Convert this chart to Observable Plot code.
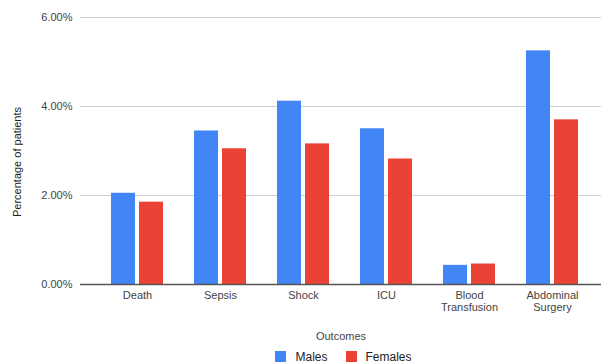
<!DOCTYPE html>
<html><head><meta charset="utf-8">
<script src="https://cdn.jsdelivr.net/npm/d3@7"></script>
<script src="https://cdn.jsdelivr.net/npm/@observablehq/plot@0.6"></script>
<style>
body{margin:0;background:#fff;font-family:"Liberation Sans",Arial,sans-serif;}
#legend{display:flex;justify-content:center;gap:18px;padding-left:86px;font-size:12px;color:#222;margin-top:5px;line-height:14px}
.sw{display:inline-block;width:11px;height:11px;margin-right:9px;vertical-align:-1px}
</style></head><body><div id="chart"></div><div id="legend"></div>
<script>
const categories = ["Death", "Sepsis", "Shock", "ICU", "Blood Transfusion", "Abdominal Surgery"];
const malesValues = [2.05, 3.45, 4.12, 3.50, 0.43, 5.25];
const femalesValues = [1.85, 3.05, 3.16, 2.82, 0.46, 3.70];
const seriesNames = ["Males", "Females"];
const seriesColors = ["#4285F4", "#EA4335"];
const yTicks = [0, 2, 4, 6];

const rows = categories.flatMap((c, i) => [
  {outcome: c, sex: seriesNames[0], value: malesValues[i]},
  {outcome: c, sex: seriesNames[1], value: femalesValues[i]}
]);

const chart = Plot.plot({
  width: 601, height: 345,
  marginLeft: 80, marginRight: 0, marginTop: 17, marginBottom: 61,
  style: {fontFamily: "Liberation Sans, Arial, sans-serif", fontSize: "11px", color: "#444", background: "#fff"},
  x: {domain: categories, range: [93, 595], paddingInner: 0.378, paddingOuter: 0.189},
  y: {domain: [0, 6]},
  marks: [
    Plot.ruleY(yTicks, {stroke: "#d0d0d0", strokeWidth: 1}),
    Plot.barY(rows.filter(d => d.sex === seriesNames[0]), {x: "outcome", y: "value", fill: seriesColors[0], insetRight: 28}),
    Plot.barY(rows.filter(d => d.sex === seriesNames[1]), {x: "outcome", y: "value", fill: seriesColors[1], insetLeft: 28}),
    Plot.ruleY([0], {stroke: "#555", strokeWidth: 1.5}),
    Plot.axisY({ticks: yTicks, tickFormat: d => d.toFixed(2) + "%", tickSize: 0, tickPadding: 8, label: null}),
    Plot.axisX({tickSize: 0, tickPadding: 6, tickFormat: d => d.replace(" ", "\n"), lineHeight: 1.1, label: "Outcomes", labelAnchor: "center", labelOffset: 55}),
    Plot.text(["Percentage of patients"], {frameAnchor: "left", textAnchor: "middle", rotate: -90, dx: -63, dy: 11, fontSize: 11, fill: "#222"})
  ]
});
document.getElementById("chart").appendChild(chart);

const legend = document.getElementById("legend");
seriesNames.forEach((n, i) => {
  const s = document.createElement("span");
  s.innerHTML = `<span class="sw" style="background:${seriesColors[i]}"></span>${n}`;
  legend.appendChild(s);
});
</script>
</body></html>
